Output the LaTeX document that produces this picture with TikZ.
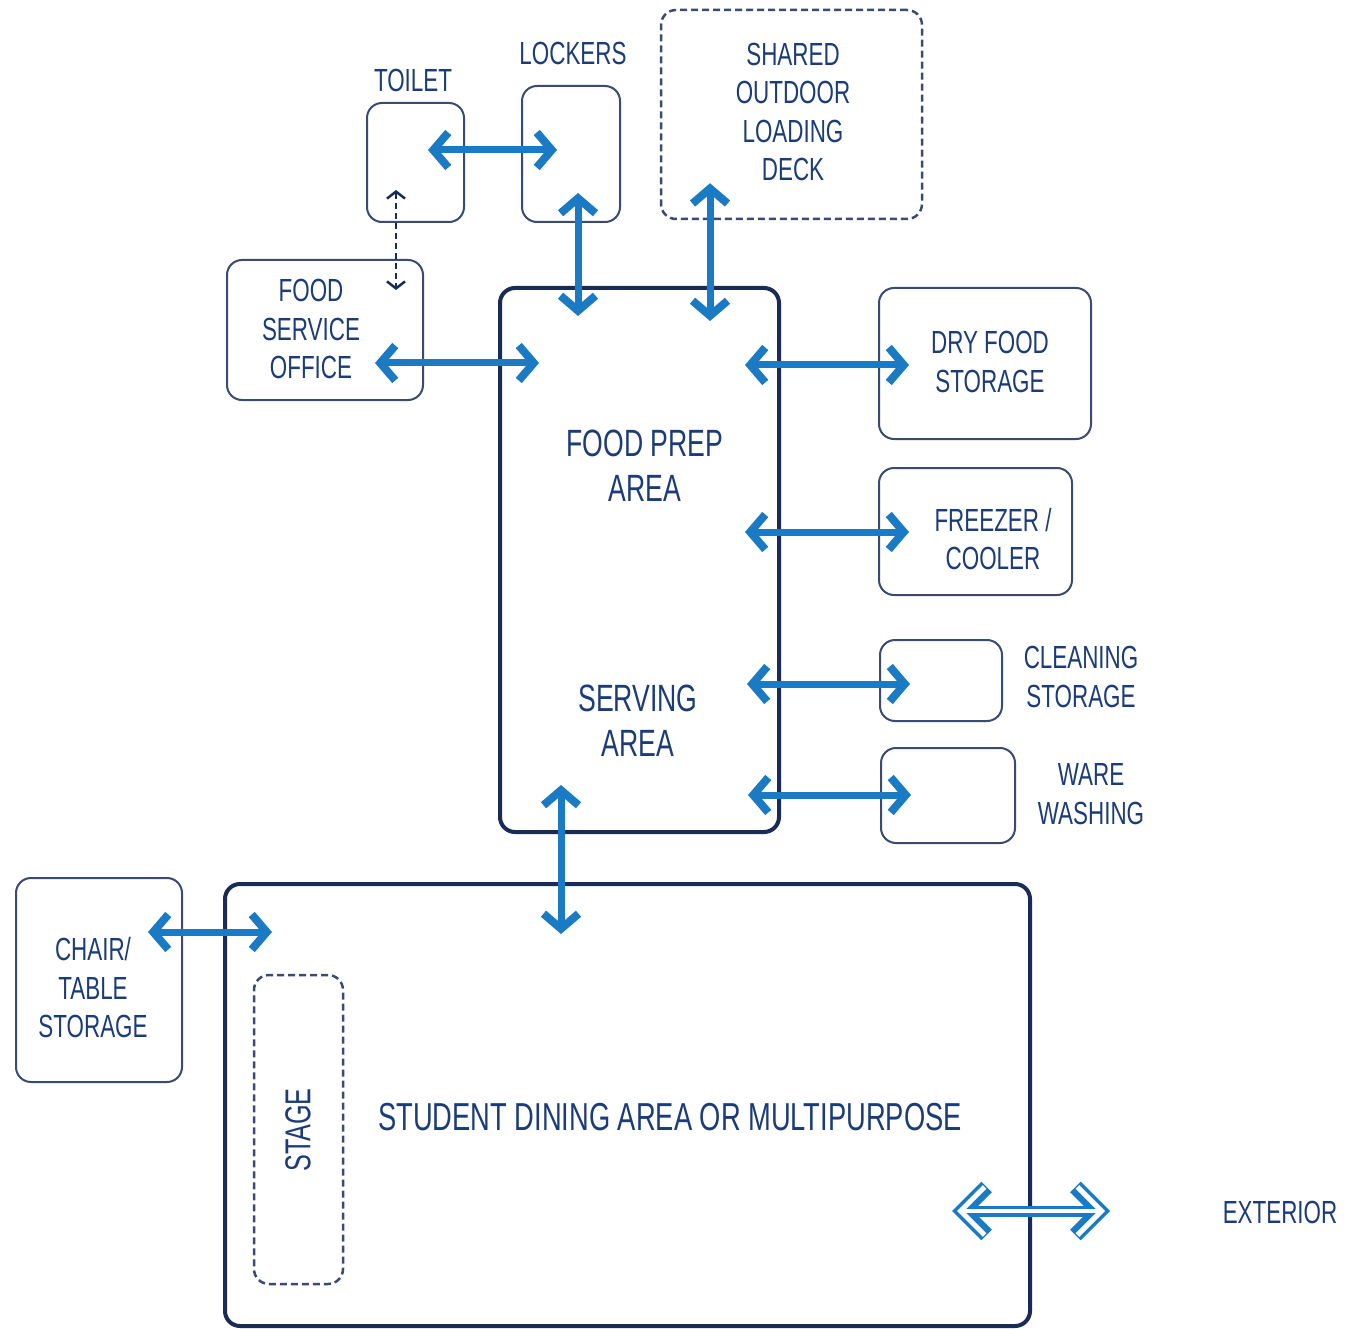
\documentclass[tikz,border=0pt]{standalone}
\usepackage{fontspec}
\setmainfont{Liberation Sans}[FakeStretch=0.7]
\usetikzlibrary{arrows.meta,calc}
\definecolor{ablue}{HTML}{1A7BC4}
\definecolor{navy}{HTML}{1B2B57}
\definecolor{slate}{HTML}{3A4A72}
\definecolor{tcol}{HTML}{1B3C78}
\tikzset{
  box/.style={draw=slate, line width=2pt, rounded corners=15pt, inner sep=0pt},
  bigbox/.style={draw=navy, line width=4pt, rounded corners=15pt, inner sep=0pt},
  dbox/.style={draw=slate, line width=2.5pt, rounded corners=15pt, inner sep=0pt, dash pattern=on 7pt off 4pt},
  lbl/.style={text=tcol, align=center, font=\fontsize{32}{38.5}\selectfont, inner sep=0pt},
  biglbl/.style={text=tcol, align=center, font=\fontsize{38}{45}\selectfont, inner sep=0pt},
  arr/.style={draw=ablue, line width=7pt,
    {Straight Barb[length=15pt,width=35pt,line width=8pt]}-{Straight Barb[length=15pt,width=35pt,line width=8pt]}},
  darr/.style={draw=navy, line width=2.5pt, dash pattern=on 6pt off 4pt,
    {Straight Barb[length=7pt,width=18pt,line width=2.5pt]}-{Straight Barb[length=7pt,width=18pt,line width=2.5pt]}},
  hollowout/.style={draw=ablue, line width=11pt,
    {Straight Barb[length=24pt,width=48pt,line width=15pt]}-{Straight Barb[length=24pt,width=48pt,line width=15pt]}},
  hollowin/.style={draw=white, line width=4pt,
    {Straight Barb[length=24pt,width=48pt,line width=5pt]}-{Straight Barb[length=24pt,width=48pt,line width=5pt]}},
}
\begin{document}
\begin{tikzpicture}[x=1pt,y=-1pt]
\useasboundingbox[fill=white] (0,0) rectangle (1357,1329);

% boxes
\node[box, minimum width=97pt, minimum height=119pt] (toilet) at (415.5,162.5) {};
\node[box, minimum width=98pt, minimum height=136pt] (lockers) at (571,154) {};
\node[dbox, minimum width=261pt, minimum height=209pt] (deck) at (791.5,114.5) {};
\node[box, minimum width=196pt, minimum height=140pt] (fso) at (325,330) {};
\node[bigbox, minimum width=279pt, minimum height=544pt] (prep) at (639.5,560) {};
\node[box, minimum width=212pt, minimum height=151pt] (dry) at (985,363.5) {};
\node[box, minimum width=193pt, minimum height=127pt] (freezer) at (975.5,531.5) {};
\node[box, minimum width=122pt, minimum height=81pt] (clean) at (941,680.5) {};
\node[box, minimum width=134pt, minimum height=95pt] (ware) at (948,795.5) {};
\node[box, minimum width=166pt, minimum height=204pt] (chair) at (99,980) {};
\node[bigbox, minimum width=805pt, minimum height=442pt] (dining) at (627.5,1105) {};
\node[dbox, minimum width=89pt, minimum height=309pt] (stage) at (298.5,1129.5) {};

% labels
\node[lbl] (tToilet) at (413,80) {TOILET};
\node[lbl] (tLockers) at (573,53) {LOCKERS};
\node[lbl] (tDeck) at (793,112) {SHARED\\OUTDOOR\\LOADING\\DECK};
\node[lbl] (tFso) at (311,329) {FOOD\\SERVICE\\OFFICE};
\node[biglbl] (tPrep) at (645,466) {FOOD PREP\\AREA};
\node[biglbl] (tServe) at (638,721) {SERVING\\AREA};
\node[lbl] (tDry) at (990,362) {DRY FOOD\\STORAGE};
\node[lbl] (tFreezer) at (993,539) {FREEZER /\\COOLER};
\node[lbl] (tClean) at (1081,677) {CLEANING\\STORAGE};
\node[lbl] (tWare) at (1091,794) {WARE\\WASHING};
\node[lbl] (tChair) at (93,988) {CHAIR/\\TABLE\\STORAGE};
\node[biglbl, font=\fontsize{39}{45}\selectfont] (tDining) at (670,1117) {STUDENT DINING AREA OR MULTIPURPOSE};
\node[biglbl, font=\fontsize{36}{42}\selectfont, rotate=90] (tStage) at (298,1130) {STAGE};
\node[lbl] (exterior) at (1280,1212) {EXTERIOR};

% connectors
\draw[arr] ($(toilet.center)+(12.5,-12.5)$) -- ($(lockers.center)+(-14,-4)$);
\draw[darr] ($(toilet.center)+(-19.5,27.5)$) -- ($(fso.center)+(71,-40)$);
\draw[arr] ($(lockers.center)+(7,39)$) -- ($(prep.north)+(-61.5,30)$);
\draw[arr] ($(deck.south)+(-81.5,-37)$) -- ($(prep.north)+(70.5,35)$);
\draw[arr] ($(fso.center)+(50,33)$) -- ($(prep.west)+(41,-197)$);
\draw[arr] ($(prep.east)+(-36,-195)$) -- ($(dry.west)+(31,1.5)$);
\draw[arr] ($(prep.east)+(-36,-28)$) -- ($(freezer.west)+(31,0.5)$);
\draw[arr] ($(prep.east)+(-34,124)$) -- ($(clean.west)+(31,3.5)$);
\draw[arr] ($(prep.east)+(-33,235)$) -- ($(ware.west)+(31,-0.5)$);
\draw[arr] ($(prep.south)+(-78.5,-49)$) -- ($(dining.north)+(-66.5,52)$);
\draw[arr] ($(chair.east)+(-35,-48)$) -- ($(dining.west)+(49,-173)$);
\draw[hollowout] ($(dining.east)+(-80,106)$) -- ($(exterior.center)+(-170,-1)$);
\draw[hollowin] ($(dining.east)+(-75,106)$) -- ($(exterior.center)+(-175,-1)$);
\end{tikzpicture}
\end{document}
